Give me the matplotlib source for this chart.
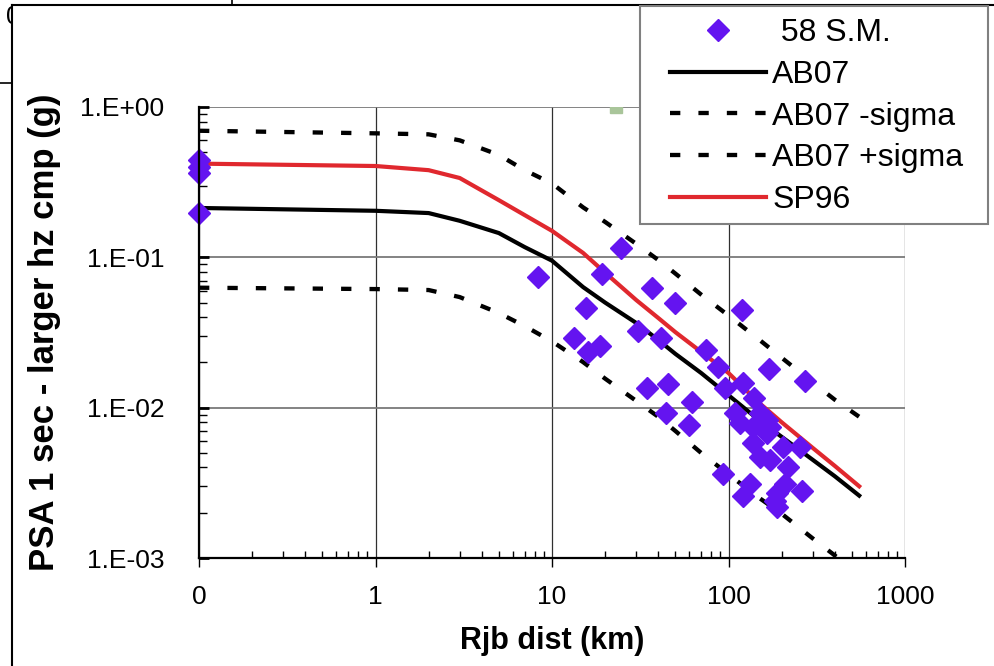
import matplotlib
matplotlib.use("Agg")
import matplotlib.pyplot as plt
from matplotlib.lines import Line2D
from matplotlib.patches import Rectangle
from matplotlib.ticker import FixedLocator, FixedFormatter, LogLocator, NullFormatter
from matplotlib.transforms import Bbox, TransformedBbox

plt.rcParams['font.family'] = ['Liberation Sans', 'DejaVu Sans']

# distance 0 km is plotted at 0.1 on the log axis (labelled "0")
curve_dist = [0.1, 1, 2, 3, 5, 7, 10, 15, 20, 30, 40, 50, 70, 100, 150, 200, 300, 400, 550]
ab07 = [0.213, 0.204, 0.197, 0.175, 0.145, 0.117, 0.095, 0.0634, 0.050, 0.0366, 0.0282,
        0.0228, 0.017, 0.0121, 0.0082, 0.0064, 0.0045, 0.0035, 0.0026]
ab07_minus = [0.0628, 0.0615, 0.0606, 0.0544, 0.0426, 0.0349, 0.0276, 0.0201, 0.0156, 0.0111,
              0.0087, 0.0070, 0.0050, 0.0036, 0.0025, 0.00197, 0.00135, 0.00104, 0.00077]
ab07_plus = [0.695, 0.668, 0.658, 0.60, 0.48, 0.38, 0.31, 0.215, 0.172, 0.123, 0.096,
             0.078, 0.0565, 0.041, 0.0282, 0.0215, 0.0147, 0.0113, 0.0087]
sp96 = [0.42, 0.405, 0.38, 0.337, 0.24, 0.191, 0.150, 0.107, 0.079, 0.052, 0.0395,
        0.0318, 0.0235, 0.017, 0.0107, 0.0080, 0.0054, 0.0041, 0.0030]

# 58 S.M. recordings
sm_dist = [0.1, 0.1, 0.1, 0.1, 8.3, 24.6, 19.2, 15.6, 13.3, 16.0, 18.7,
           36.9, 49.8, 30.7, 41.5, 34.5, 45.4, 44.3,
           119, 74.6, 87.3, 95.7, 121, 169, 271, 62.1, 59.7, 139,
           109, 116, 151, 165, 138, 172, 165,
           138, 151, 172, 204, 254, 217,
           93, 132, 121, 188, 261, 209, 183, 188]
sm_psa = [0.444, 0.399, 0.364, 0.197, 0.074, 0.115, 0.0774, 0.046, 0.029, 0.0234, 0.0257,
          0.0625, 0.0497, 0.0324, 0.029, 0.0135, 0.0144, 0.0092,
          0.0446, 0.0242, 0.0186, 0.0135, 0.0146, 0.0181, 0.0150, 0.0109, 0.0077, 0.0116,
          0.0092, 0.0079, 0.0092, 0.0083, 0.0074, 0.0074, 0.0068,
          0.0058, 0.0047, 0.0045, 0.0055, 0.0055, 0.0040,
          0.0036, 0.0031, 0.0026, 0.0027, 0.0028, 0.0031, 0.0024, 0.0022]

# stray point partly hidden at the top edge
extra_dist = [23.1]
extra_psa = [1.0]

ytick_vals = [1e-3, 1e-2, 1e-1, 1]
ytick_labels = ['1.E-03', '1.E-02', '1.E-01', '1.E+00']
xtick_vals = [0.1, 1, 10, 100, 1000]
xtick_labels = ['0', '1', '10', '100', '1000']

W, H = 994, 666
fig = plt.figure(figsize=(W / 100, H / 100), dpi=100)
ax = fig.add_axes([199 / W, 1 - 558 / H, 706 / W, 451 / H])

purple = '#6414f0'
red = '#e0282e'
dash = (2.4, 4.2)

ax.plot(curve_dist, ab07_plus, color='black', lw=3.1, dashes=dash, zorder=3)
ax.plot(curve_dist, ab07_minus, color='black', lw=3.1, dashes=dash, zorder=3)
ax.plot(curve_dist, ab07, color='black', lw=3, zorder=3)
ax.plot(curve_dist, sp96, color=red, lw=3, zorder=3)
ax.plot(sm_dist, sm_psa, ls='none', marker='D', ms=11, color=purple, mec=purple,
        zorder=4, clip_on=False)
ax.plot(extra_dist, extra_psa, ls='none', marker='s', ms=9, color='#a9c59a', zorder=2)

ax.set_xscale('log')
ax.set_yscale('log')
ax.set_xlim(0.1, 1000)
ax.set_ylim(1e-3, 1)

ax.xaxis.set_major_locator(FixedLocator(xtick_vals))
ax.xaxis.set_major_formatter(FixedFormatter(xtick_labels))
ax.yaxis.set_major_locator(FixedLocator(ytick_vals))
ax.yaxis.set_major_formatter(FixedFormatter(ytick_labels))
ax.xaxis.set_minor_locator(LogLocator(base=10, subs=range(2, 10), numticks=20))
ax.yaxis.set_minor_locator(LogLocator(base=10, subs=range(2, 10), numticks=20))
ax.xaxis.set_minor_formatter(NullFormatter())
ax.yaxis.set_minor_formatter(NullFormatter())

ax.tick_params(axis='x', which='major', direction='out', length=6.5, width=1,
               labelsize=19, pad=13)
ax.tick_params(axis='x', which='minor', direction='in', length=5, width=1)
ax.tick_params(axis='y', which='major', direction='in', length=7, width=2,
               labelsize=19, pad=25)
ax.tick_params(axis='y', which='minor', direction='in', length=5.5, width=1)

ax.grid(True, which='major', axis='x', color='#303030', lw=0.9)
ax.grid(True, which='major', axis='y', color='#7a7a7a', lw=1.3)
ax.set_axisbelow(True)
for s in ['top', 'right']:
    ax.spines[s].set_visible(False)
for s in ['left', 'bottom']:
    ax.spines[s].set_linewidth(1.6)
    ax.spines[s].set_zorder(5)

ax.set_xlabel('Rjb dist (km)', fontsize=22, fontweight='bold', labelpad=12)
ax.set_ylabel('PSA 1 sec - larger hz cmp (g)', fontsize=25, fontweight='bold', labelpad=14)

# legend box
fig.add_artist(Rectangle((640 / W, 1 - 224 / H), 348 / W, 218 / H, transform=fig.transFigure,
                         facecolor='white', edgecolor='#808080', lw=1.5, zorder=4))
handles = [
    Line2D([], [], ls='none', marker='D', ms=11, color=purple),
    Line2D([], [], color='black', lw=3),
    Line2D([], [], color='black', lw=3.1, dashes=dash),
    Line2D([], [], color='black', lw=3.1, dashes=dash),
    Line2D([], [], color=red, lw=3),
]
labels = [' 58 S.M.', 'AB07', 'AB07 -sigma', 'AB07 +sigma', 'SP96']
leg = fig.legend(handles, labels, loc='upper left', bbox_to_anchor=(670 / W, 1 - 18 / H),
                 frameon=False, fontsize=23, handlelength=3.0, handletextpad=0.2,
                 borderpad=0, borderaxespad=0, labelspacing=0.37)
leg.set_zorder(5)

# outer chart frame and bits of a chart behind it
fig.add_artist(Line2D([12 / W, 1], [1 - 5 / H, 1 - 5 / H], transform=fig.transFigure,
                      color='black', lw=1.5))
fig.add_artist(Line2D([12 / W, 12 / W], [0, 1 - 5 / H], transform=fig.transFigure,
                      color='black', lw=1.5))
fig.add_artist(Line2D([0, 12 / W], [1 - 83 / H, 1 - 83 / H], transform=fig.transFigure,
                      color='black', lw=1.2))
fig.add_artist(Line2D([232 / W, 232 / W], [1 - 5 / H, 1], transform=fig.transFigure,
                      color='black', lw=1.2))
t = fig.text(13 / W, 1 - 17 / H, '0', fontsize=18, ha='center', va='center')
t.set_clip_box(TransformedBbox(Bbox([[0, 0], [11.5 / W, 1]]), fig.transFigure))
t.set_clip_on(True)

fig.savefig('out.png', dpi=100)
